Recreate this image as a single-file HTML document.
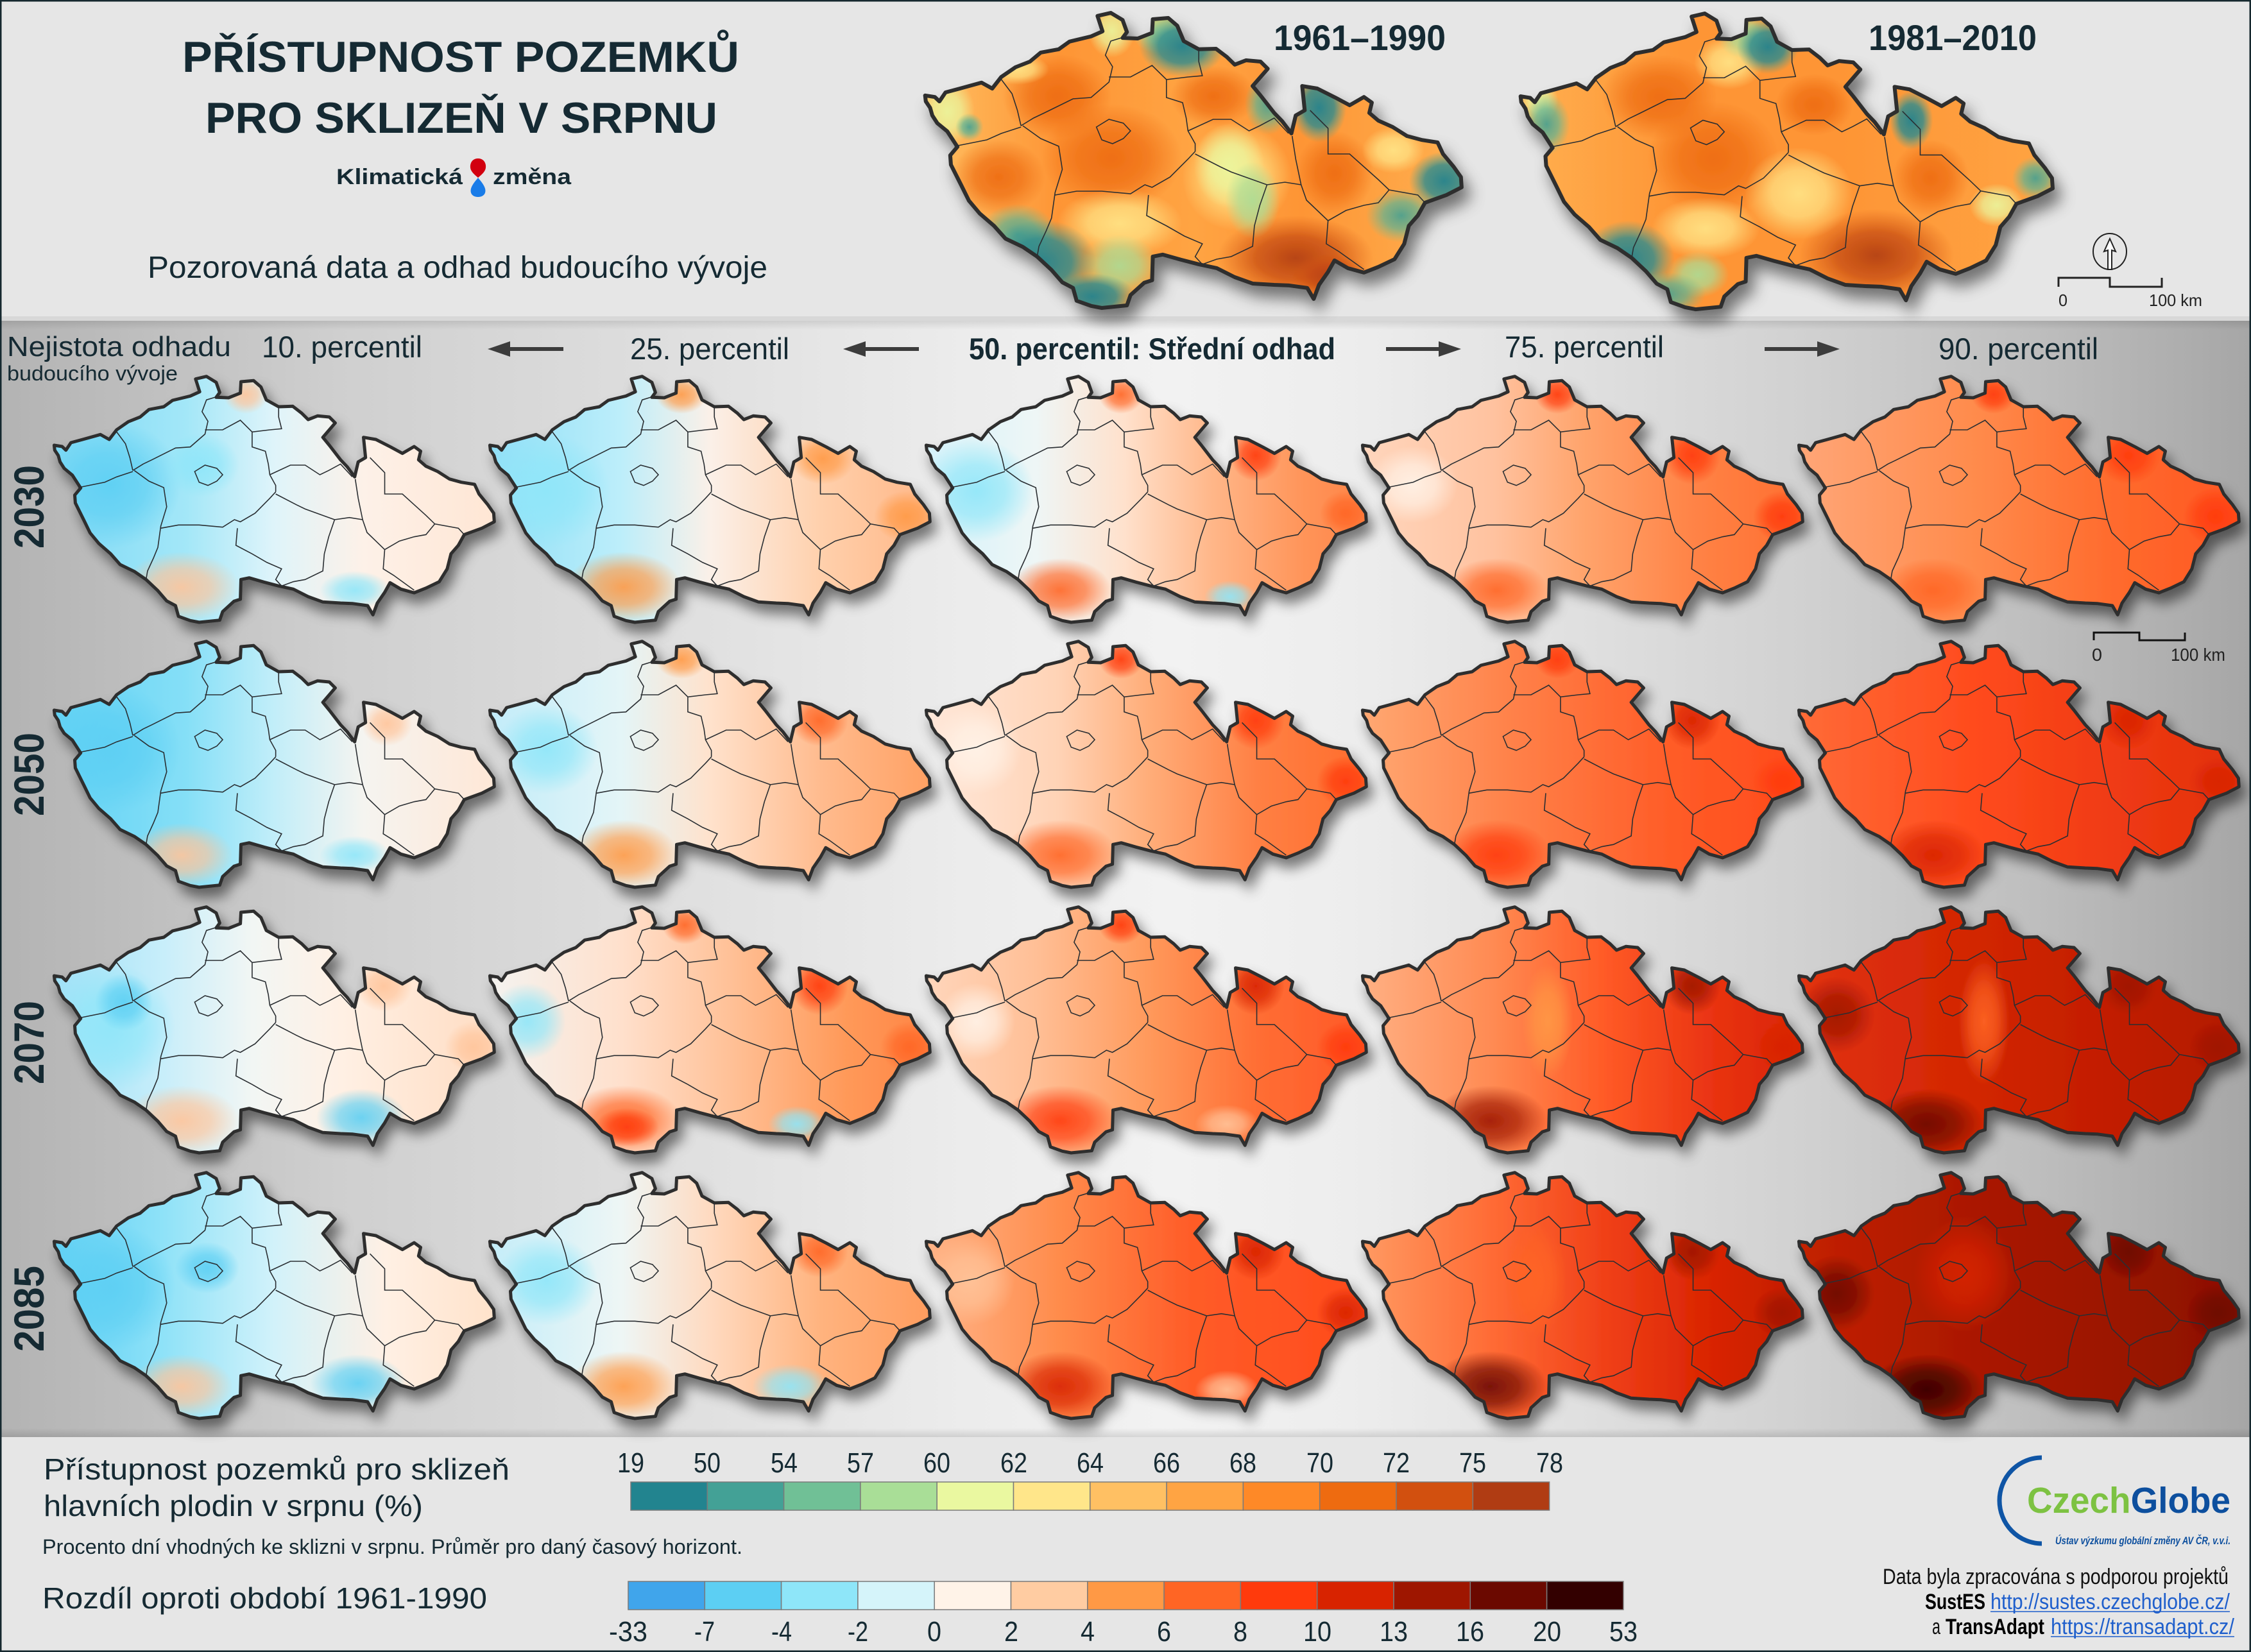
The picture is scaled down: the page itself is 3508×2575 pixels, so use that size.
<!DOCTYPE html>
<html><head><meta charset="utf-8"><style>
html,body{margin:0;padding:0;background:#e6e6e6}
svg{display:block}
text{font-family:"Liberation Sans",Arial,sans-serif;fill:#152a33}
.ol{fill:none;stroke:#2e2e2e;stroke-width:5;stroke-linejoin:round}
.kr{fill:none;stroke:#2a2f33;stroke-width:1.6;vector-effect:non-scaling-stroke}
</style></head><body>
<svg width="3508" height="2575" viewBox="0 0 3508 2575" xmlns="http://www.w3.org/2000/svg">
<defs>
<path id="cz" d="M1.4,109 L13.8,111 L19.7,116.7 L27.5,105 L45.9,100 L73.5,92.3 L87.2,100 L98.7,85 L117,72.3 L135.4,65 L149.2,53.3 L172.2,49 L186,39 L213.5,32.3 L228.2,25.7 L221.8,5.7 L238.8,1.7 L253.9,11 L259.4,26.7 L253.9,34.3 L273.2,35 L291.6,27.7 L292.5,10 L312.2,8.3 L323.7,18.3 L332,38.3 L351.2,49 L373.3,48.3 L387.1,59 L397.2,69 L411.8,63.3 L430.2,65 L439.4,74.3 L430.2,85 L420.1,96.7 L430.2,109 L447.7,131.7 L457.8,142.3 L469.7,158.3 L475.2,135 L486.7,128.3 L483.5,96.7 L502.8,100 L525.7,111.7 L544.1,121.7 L562.4,111 L572.5,118.3 L569.3,131.7 L580.8,141.7 L599.2,150 L617.5,161.7 L635.9,166.7 L656.6,170 L663.5,185 L677.2,201.7 L686.4,215 L687.3,228.3 L668,238.3 L640.5,248.3 L631.3,265 L619.8,278.3 L613.9,301.7 L601.5,321.7 L580.8,331.7 L562.4,339 L541.8,333.3 L524.8,323.3 L516.5,338.3 L505,355 L498.2,373.3 L489.9,359 L466,355.7 L447.7,355 L420.1,353.3 L397.2,345 L374.2,333.3 L351.2,328.3 L328.3,322.3 L305.3,315.7 L292.5,318.3 L291.6,349 L281.5,352.3 L264,368.3 L259.4,381.7 L227.3,385 L213.5,382.3 L195.1,375.7 L190.5,359 L176.8,351.7 L163,335.7 L144.6,318.3 L126.3,305.7 L104.2,295 L89.5,278.3 L71.2,262.3 L57.4,245.7 L47.3,225 L34.4,199 L33.5,186.7 L42.7,175.7 L29.8,155.7 L17,145 L10.6,135 L7.8,125 L2.3,116.7 Z"/>
<clipPath id="cc"><use href="#cz"/></clipPath>
<g id="kr" transform="matrix(0.45914,0,0,0.33333,-11.478,-15)">
<path class="kr" d="M235,300 L270,365 L285,430 L295,490 M110,570 L200,545 L240,520 L295,495 M295,490 L330,460 L360,440 L440,385 L490,380 L540,320 L550,260 L530,215 L545,160 L580,145 M300,490 L350,540 L400,570 L410,660 L390,750 L380,850 L365,900 L345,960 L340,1000 M390,760 L450,745 L520,745 L600,755 L640,720 L660,730 L710,690 L760,620 L780,590 M540,300 L600,300 L660,255 L700,310 L760,300 L800,295 L790,240 L790,190 M700,310 L700,380 L745,400 L755,460 L760,510 L780,560 L780,590 M760,510 L830,465 L880,465 L930,510 L960,490 L1000,460 L1040,520 M650,760 L645,840 L700,880 L750,920 L800,950 L780,1000 L800,1030 M780,600 L850,650 L880,670 L940,700 L980,720 M980,720 L960,800 L945,880 L940,960 L880,1000 L840,1010 L800,1030 M1050,530 L1060,620 L1075,720 M980,720 L1030,710 L1075,720 M1075,720 L1090,780 L1120,820 L1150,860 L1145,950 L1180,980 L1250,1050 M1100,430 L1150,500 L1150,600 L1210,600 L1250,650 L1290,700 L1320,740 L1400,760 L1420,790 M1320,740 L1290,790 L1250,800 L1200,820 L1150,860 M505,495 L540,465 L580,480 L600,510 L580,540 L550,560 L520,545 Z"/>
</g>
<filter id="ds" x="-10%" y="-10%" width="125%" height="140%">
<feGaussianBlur in="SourceAlpha" stdDeviation="10"/>
<feOffset dx="8" dy="15" result="o"/>
<feFlood flood-color="#000" flood-opacity=".5"/>
<feComposite in2="o" operator="in"/>
<feMerge><feMergeNode/><feMergeNode in="SourceGraphic"/></feMerge>
</filter>
<linearGradient id="band" x1="0" x2="1" y1="0" y2="0">
<stop offset="0" stop-color="#b3b3b3"/><stop offset=".05" stop-color="#bcbcbc"/><stop offset=".15" stop-color="#cfcfcf"/><stop offset=".3" stop-color="#dfdfdf"/><stop offset=".43" stop-color="#ececec"/><stop offset=".52" stop-color="#f2f2f2"/><stop offset=".6" stop-color="#ededed"/><stop offset=".7" stop-color="#e0e0e0"/><stop offset=".8" stop-color="#d1d1d1"/><stop offset=".9" stop-color="#bfbfbf"/><stop offset="1" stop-color="#a6a6a6"/>
</linearGradient>
<linearGradient id="shT" x1="0" x2="0" y1="0" y2="1"><stop offset="0" stop-color="#000" stop-opacity=".10"/><stop offset="1" stop-color="#000" stop-opacity="0"/></linearGradient>
<linearGradient id="shB" x1="0" x2="0" y1="0" y2="1"><stop offset="0" stop-color="#000" stop-opacity="0"/><stop offset="1" stop-color="#000" stop-opacity=".12"/></linearGradient>

<radialGradient id="rB1"><stop offset="0" stop-color="#5ccff3" stop-opacity=".9"/><stop offset=".5" stop-color="#5ccff3" stop-opacity=".65"/><stop offset="1" stop-color="#5ccff3" stop-opacity="0"/></radialGradient>
<radialGradient id="rB2"><stop offset="0" stop-color="#8ee6f9" stop-opacity=".9"/><stop offset=".5" stop-color="#8ee6f9" stop-opacity=".65"/><stop offset="1" stop-color="#8ee6f9" stop-opacity="0"/></radialGradient>
<radialGradient id="rW"><stop offset="0" stop-color="#fff3e8" stop-opacity=".9"/><stop offset=".5" stop-color="#fff3e8" stop-opacity=".65"/><stop offset="1" stop-color="#fff3e8" stop-opacity="0"/></radialGradient>
<radialGradient id="rP"><stop offset="0" stop-color="#ffc49a" stop-opacity=".9"/><stop offset=".5" stop-color="#ffc49a" stop-opacity=".65"/><stop offset="1" stop-color="#ffc49a" stop-opacity="0"/></radialGradient>
<radialGradient id="rO"><stop offset="0" stop-color="#ff9945" stop-opacity=".9"/><stop offset=".5" stop-color="#ff9945" stop-opacity=".65"/><stop offset="1" stop-color="#ff9945" stop-opacity="0"/></radialGradient>
<radialGradient id="rO2"><stop offset="0" stop-color="#ff6524" stop-opacity=".9"/><stop offset=".5" stop-color="#ff6524" stop-opacity=".65"/><stop offset="1" stop-color="#ff6524" stop-opacity="0"/></radialGradient>
<radialGradient id="rR"><stop offset="0" stop-color="#ff3a0c" stop-opacity=".9"/><stop offset=".5" stop-color="#ff3a0c" stop-opacity=".65"/><stop offset="1" stop-color="#ff3a0c" stop-opacity="0"/></radialGradient>
<radialGradient id="rR2"><stop offset="0" stop-color="#d82300" stop-opacity=".9"/><stop offset=".5" stop-color="#d82300" stop-opacity=".65"/><stop offset="1" stop-color="#d82300" stop-opacity="0"/></radialGradient>
<radialGradient id="rD"><stop offset="0" stop-color="#9e1600" stop-opacity=".9"/><stop offset=".5" stop-color="#9e1600" stop-opacity=".65"/><stop offset="1" stop-color="#9e1600" stop-opacity="0"/></radialGradient>
<radialGradient id="rD2"><stop offset="0" stop-color="#6b0900" stop-opacity=".9"/><stop offset=".5" stop-color="#6b0900" stop-opacity=".65"/><stop offset="1" stop-color="#6b0900" stop-opacity="0"/></radialGradient>
<radialGradient id="rDD"><stop offset="0" stop-color="#330000" stop-opacity=".9"/><stop offset=".5" stop-color="#330000" stop-opacity=".65"/><stop offset="1" stop-color="#330000" stop-opacity="0"/></radialGradient>
<radialGradient id="rT1"><stop offset="0" stop-color="#21838f" stop-opacity=".95"/><stop offset=".55" stop-color="#2a8b90" stop-opacity=".8"/><stop offset="1" stop-color="#42a194" stop-opacity="0"/></radialGradient>
<radialGradient id="rT2"><stop offset="0" stop-color="#42a194" stop-opacity=".9"/><stop offset=".5" stop-color="#5ab295" stop-opacity=".7"/><stop offset="1" stop-color="#6fbf94" stop-opacity="0"/></radialGradient>
<radialGradient id="rG"><stop offset="0" stop-color="#aadd97" stop-opacity=".9"/><stop offset=".5" stop-color="#aadd97" stop-opacity=".7"/><stop offset="1" stop-color="#aadd97" stop-opacity="0"/></radialGradient>
<radialGradient id="rY"><stop offset="0" stop-color="#ffe688" stop-opacity=".9"/><stop offset=".5" stop-color="#ffe688" stop-opacity=".7"/><stop offset="1" stop-color="#ffe688" stop-opacity="0"/></radialGradient>
<radialGradient id="rYG"><stop offset="0" stop-color="#eaf79f" stop-opacity=".9"/><stop offset=".5" stop-color="#eaf79f" stop-opacity=".7"/><stop offset="1" stop-color="#eaf79f" stop-opacity="0"/></radialGradient>
<radialGradient id="rOr"><stop offset="0" stop-color="#ed6a11" stop-opacity=".9"/><stop offset=".5" stop-color="#ed6a11" stop-opacity=".65"/><stop offset="1" stop-color="#ed6a11" stop-opacity="0"/></radialGradient>
<radialGradient id="rBr"><stop offset="0" stop-color="#b03c13" stop-opacity=".9"/><stop offset=".5" stop-color="#c2460f" stop-opacity=".7"/><stop offset="1" stop-color="#d2500f" stop-opacity="0"/></radialGradient>

<linearGradient id="T1" x1="0" x2="1"><stop offset="0" stop-color="#ffc063"/><stop offset=".25" stop-color="#fe9535"/><stop offset=".5" stop-color="#ffa443"/><stop offset=".7" stop-color="#fe9535"/><stop offset="1" stop-color="#ffb050"/></linearGradient>
<linearGradient id="T2" x1="0" x2="1"><stop offset="0" stop-color="#ffb050"/><stop offset=".3" stop-color="#fe9535"/><stop offset=".6" stop-color="#fe9535"/><stop offset="1" stop-color="#ffa443"/></linearGradient>

<linearGradient id="L11" x1="0" x2="1"><stop offset="0" stop-color="#7ed9f5"/><stop offset=".3" stop-color="#a3e7f8"/><stop offset=".5" stop-color="#dff4fa"/><stop offset=".7" stop-color="#fdf1e8"/><stop offset="1" stop-color="#ffe6d4"/></linearGradient>
<linearGradient id="L21" x1="0" x2="1"><stop offset="0" stop-color="#8fdff7"/><stop offset=".3" stop-color="#bdeefa"/><stop offset=".5" stop-color="#fbf0e8"/><stop offset=".75" stop-color="#ffd0ac"/><stop offset="1" stop-color="#ffb686"/></linearGradient>
<linearGradient id="L31" x1="0" x2="1"><stop offset="0" stop-color="#d4f2fa"/><stop offset=".25" stop-color="#eef6f6"/><stop offset=".45" stop-color="#ffe1cc"/><stop offset=".65" stop-color="#ffb688"/><stop offset=".85" stop-color="#ff955a"/><stop offset="1" stop-color="#ff8345"/></linearGradient>
<linearGradient id="L41" x1="0" x2="1"><stop offset="0" stop-color="#ffd6bd"/><stop offset=".3" stop-color="#ffc29f"/><stop offset=".5" stop-color="#ffa46c"/><stop offset=".75" stop-color="#ff8346"/><stop offset="1" stop-color="#ff6e30"/></linearGradient>
<linearGradient id="L51" x1="0" x2="1"><stop offset="0" stop-color="#ffa677"/><stop offset=".4" stop-color="#ff8b4c"/><stop offset=".7" stop-color="#ff6c2e"/><stop offset="1" stop-color="#ff5622"/></linearGradient>

<linearGradient id="L12" x1="0" x2="1"><stop offset="0" stop-color="#62d2f4"/><stop offset=".3" stop-color="#85dff7"/><stop offset=".5" stop-color="#c2eef9"/><stop offset=".7" stop-color="#f5f4f0"/><stop offset="1" stop-color="#ffe7d6"/></linearGradient>
<linearGradient id="L22" x1="0" x2="1"><stop offset="0" stop-color="#c2ecf9"/><stop offset=".3" stop-color="#e4f5f7"/><stop offset=".5" stop-color="#ffe2cc"/><stop offset=".75" stop-color="#ffbb8e"/><stop offset="1" stop-color="#ffa062"/></linearGradient>
<linearGradient id="L32" x1="0" x2="1"><stop offset="0" stop-color="#ffe8da"/><stop offset=".3" stop-color="#ffd3b6"/><stop offset=".5" stop-color="#ffae7a"/><stop offset=".75" stop-color="#ff8044"/><stop offset="1" stop-color="#ff6c2c"/></linearGradient>
<linearGradient id="L42" x1="0" x2="1"><stop offset="0" stop-color="#ffa872"/><stop offset=".35" stop-color="#ff8048"/><stop offset=".7" stop-color="#ff5c27"/><stop offset="1" stop-color="#ff4a1b"/></linearGradient>
<linearGradient id="L52" x1="0" x2="1"><stop offset="0" stop-color="#ff6b37"/><stop offset=".4" stop-color="#ff4b1d"/><stop offset=".7" stop-color="#f03b13"/><stop offset="1" stop-color="#e2300e"/></linearGradient>

<linearGradient id="L13" x1="0" x2="1"><stop offset="0" stop-color="#9fe1f7"/><stop offset=".25" stop-color="#c8eefa"/><stop offset=".45" stop-color="#f2f6f4"/><stop offset=".65" stop-color="#fff0e4"/><stop offset="1" stop-color="#ffdcc2"/></linearGradient>
<linearGradient id="L23" x1="0" x2="1"><stop offset="0" stop-color="#f4f3f0"/><stop offset=".3" stop-color="#ffe0cc"/><stop offset=".55" stop-color="#ffc096"/><stop offset=".8" stop-color="#ff9a5a"/><stop offset="1" stop-color="#ff8444"/></linearGradient>
<linearGradient id="L33" x1="0" x2="1"><stop offset="0" stop-color="#ffd6bc"/><stop offset=".25" stop-color="#ffbf96"/><stop offset=".5" stop-color="#ff9a5c"/><stop offset=".75" stop-color="#ff6e34"/><stop offset="1" stop-color="#ff5727"/></linearGradient>
<linearGradient id="L43" x1="0" x2="1"><stop offset="0" stop-color="#ffb083"/><stop offset=".3" stop-color="#ff8a52"/><stop offset=".55" stop-color="#ff5a26"/><stop offset=".8" stop-color="#e93211"/><stop offset="1" stop-color="#d82502"/></linearGradient>
<linearGradient id="L53" x1="0" x2="1"><stop offset="0" stop-color="#e23212"/><stop offset=".4" stop-color="#d22602"/><stop offset=".7" stop-color="#c21d00"/><stop offset="1" stop-color="#b21900"/></linearGradient>

<linearGradient id="L14" x1="0" x2="1"><stop offset="0" stop-color="#5fd0f4"/><stop offset=".25" stop-color="#8fe2f8"/><stop offset=".5" stop-color="#d2f2fa"/><stop offset=".75" stop-color="#fff0e4"/><stop offset="1" stop-color="#ffe2ca"/></linearGradient>
<linearGradient id="L24" x1="0" x2="1"><stop offset="0" stop-color="#c4edf9"/><stop offset=".3" stop-color="#eef6f5"/><stop offset=".5" stop-color="#ffdac0"/><stop offset=".75" stop-color="#ffb37e"/><stop offset="1" stop-color="#ff9c5e"/></linearGradient>
<linearGradient id="L34" x1="0" x2="1"><stop offset="0" stop-color="#ffb488"/><stop offset=".3" stop-color="#ff8c4c"/><stop offset=".6" stop-color="#ff5c28"/><stop offset="1" stop-color="#ff4a1b"/></linearGradient>
<linearGradient id="L44" x1="0" x2="1"><stop offset="0" stop-color="#ff9a62"/><stop offset=".3" stop-color="#ff6a34"/><stop offset=".55" stop-color="#f04018"/><stop offset=".8" stop-color="#d82300"/><stop offset="1" stop-color="#c21d00"/></linearGradient>
<linearGradient id="L54" x1="0" x2="1"><stop offset="0" stop-color="#c42100"/><stop offset=".4" stop-color="#aa1800"/><stop offset=".7" stop-color="#9c1400"/><stop offset="1" stop-color="#8c1000"/></linearGradient>
</defs>

<rect x="0" y="0" width="3508" height="2575" fill="#e6e6e6"/>
<rect x="0" y="500" width="3508" height="1740" fill="url(#band)"/>
<rect x="0" y="500" width="3508" height="14" fill="url(#shT)"/>
<rect x="0" y="493" width="3508" height="7" fill="#000" opacity=".06"/>
<rect x="0" y="2226" width="3508" height="14" fill="url(#shB)"/>

<text x="284" y="112" font-size="68" font-weight="bold" textLength="868" lengthAdjust="spacingAndGlyphs">PŘÍSTUPNOST POZEMKŮ</text>
<text x="320" y="207" font-size="68" font-weight="bold" textLength="798" lengthAdjust="spacingAndGlyphs">PRO SKLIZEŇ V SRPNU</text>
<text x="524" y="287" font-size="34" font-weight="bold" textLength="197" lengthAdjust="spacingAndGlyphs">Klimatická</text>
<text x="768" y="287" font-size="34" font-weight="bold" textLength="122" lengthAdjust="spacingAndGlyphs">změna</text>
<path d="M745,247 C734,247 731,258 734,265 C737,271 742,274 745,277 C748,274 753,271 756,265 C759,258 756,247 745,247 Z" fill="#d2000f"/>
<path d="M745,277 C742,281 736,287 734,294 C732,302 737,307 745,307 C753,307 758,302 756,294 C754,287 748,281 745,277 Z" fill="#1a7ce8"/>
<text x="230" y="433" font-size="48" textLength="966" lengthAdjust="spacingAndGlyphs">Pozorovaná data a odhad budoucího vývoje</text>

<g transform="translate(1440,18) scale(1.219,1.2)" filter="url(#ds)">
<g clip-path="url(#cc)">
<rect width="690" height="386" fill="url(#T1)"/>
<ellipse cx="170" cy="110" rx="70" ry="55" fill="url(#rOr)"/>
<ellipse cx="240" cy="190" rx="90" ry="70" fill="url(#rOr)"/>
<ellipse cx="95" cy="215" rx="60" ry="50" fill="url(#rOr)"/>
<ellipse cx="525" cy="210" rx="50" ry="55" fill="url(#rOr)"/>
<ellipse cx="370" cy="110" rx="55" ry="40" fill="url(#rOr)"/>
<ellipse cx="475" cy="320" rx="100" ry="55" fill="url(#rBr)"/>
<ellipse cx="520" cy="345" rx="50" ry="30" fill="url(#rBr)"/>
<ellipse cx="250" cy="275" rx="80" ry="45" fill="url(#rY)"/>
<ellipse cx="400" cy="215" rx="70" ry="70" fill="url(#rY)"/>
<ellipse cx="390" cy="200" rx="45" ry="55" fill="url(#rYG)"/>
<ellipse cx="420" cy="245" rx="35" ry="50" fill="url(#rG)"/>
<ellipse cx="250" cy="330" rx="50" ry="40" fill="url(#rG)"/>
<ellipse cx="120" cy="290" rx="50" ry="40" fill="url(#rT2)"/>
<ellipse cx="150" cy="325" rx="70" ry="55" fill="url(#rT1)"/>
<ellipse cx="215" cy="370" rx="55" ry="30" fill="url(#rT1)"/>
<ellipse cx="240" cy="25" rx="30" ry="35" fill="url(#rYG)"/>
<ellipse cx="300" cy="25" rx="35" ry="30" fill="url(#rG)"/>
<ellipse cx="330" cy="45" rx="55" ry="40" fill="url(#rT1)"/>
<ellipse cx="440" cy="120" rx="30" ry="40" fill="url(#rT2)"/>
<ellipse cx="505" cy="125" rx="35" ry="45" fill="url(#rT1)"/>
<ellipse cx="600" cy="180" rx="40" ry="30" fill="url(#rY)"/>
<ellipse cx="665" cy="220" rx="45" ry="38" fill="url(#rT1)"/>
<ellipse cx="610" cy="265" rx="45" ry="35" fill="url(#rT2)"/>
<ellipse cx="30" cy="130" rx="35" ry="45" fill="url(#rYG)"/>
<ellipse cx="58" cy="150" rx="18" ry="18" fill="url(#rT2)"/>
<ellipse cx="120" cy="75" rx="40" ry="20" fill="url(#rY)"/>
</g>
<use href="#cz" class="ol"/>
<use href="#kr"/>
</g>
<g transform="translate(2368,19) scale(1.209,1.203)" filter="url(#ds)">
<g clip-path="url(#cc)">
<rect width="690" height="386" fill="url(#T2)"/>
<ellipse cx="180" cy="110" rx="75" ry="55" fill="url(#rOr)"/>
<ellipse cx="250" cy="190" rx="85" ry="75" fill="url(#rOr)"/>
<ellipse cx="530" cy="215" rx="50" ry="50" fill="url(#rOr)"/>
<ellipse cx="380" cy="120" rx="50" ry="40" fill="url(#rOr)"/>
<ellipse cx="460" cy="315" rx="100" ry="60" fill="url(#rBr)"/>
<ellipse cx="360" cy="235" rx="70" ry="60" fill="url(#rY)"/>
<ellipse cx="240" cy="280" rx="70" ry="40" fill="url(#rY)"/>
<ellipse cx="270" cy="65" rx="45" ry="35" fill="url(#rY)"/>
<ellipse cx="230" cy="340" rx="40" ry="30" fill="url(#rG)"/>
<ellipse cx="140" cy="320" rx="60" ry="50" fill="url(#rT1)"/>
<ellipse cx="190" cy="365" rx="50" ry="28" fill="url(#rT2)"/>
<ellipse cx="25" cy="115" rx="25" ry="30" fill="url(#rYG)"/>
<ellipse cx="35" cy="145" rx="30" ry="40" fill="url(#rT2)"/>
<ellipse cx="290" cy="30" rx="35" ry="30" fill="url(#rG)"/>
<ellipse cx="320" cy="45" rx="40" ry="35" fill="url(#rT1)"/>
<ellipse cx="505" cy="140" rx="28" ry="38" fill="url(#rT1)"/>
<ellipse cx="615" cy="250" rx="35" ry="28" fill="url(#rYG)"/>
<ellipse cx="665" cy="215" rx="30" ry="28" fill="url(#rT2)"/>
</g>
<use href="#cz" class="ol"/>
<use href="#kr"/>
</g>
<text x="1985" y="78" font-size="56" font-weight="bold" textLength="268" lengthAdjust="spacingAndGlyphs">1961–1990</text>
<text x="2912" y="78" font-size="56" font-weight="bold" textLength="262" lengthAdjust="spacingAndGlyphs">1981–2010</text>

<ellipse cx="3288" cy="392" rx="26" ry="28" fill="none" stroke="#222" stroke-width="2"/>
<path d="M3288,372 L3279,392 L3285,390 L3285,420 L3291,420 L3291,390 L3297,392 Z" fill="#fff" stroke="#222" stroke-width="2"/>
<path d="M3208,447 L3208,433 L3288,433 L3288,447 L3369,447 L3369,433" fill="none" stroke="#222" stroke-width="3"/>
<text x="3208" y="477" font-size="26" textLength="14" lengthAdjust="spacingAndGlyphs" style="fill:#222">0</text>
<text x="3349" y="477" font-size="26" textLength="83" lengthAdjust="spacingAndGlyphs" style="fill:#222">100 km</text>

<text x="11" y="555" font-size="44" textLength="349" lengthAdjust="spacingAndGlyphs">Nejistota odhadu</text>
<text x="11" y="593" font-size="32" textLength="266" lengthAdjust="spacingAndGlyphs">budoucího vývoje</text>
<text x="408" y="557" font-size="47" textLength="250" lengthAdjust="spacingAndGlyphs">10. percentil</text>
<text x="982" y="560" font-size="47" textLength="248" lengthAdjust="spacingAndGlyphs">25. percentil</text>
<text x="1510" y="560" font-size="47" font-weight="bold" textLength="571" lengthAdjust="spacingAndGlyphs">50. percentil: Střední odhad</text>
<text x="2345" y="557" font-size="47" textLength="248" lengthAdjust="spacingAndGlyphs">75. percentil</text>
<text x="3021" y="560" font-size="47" textLength="249" lengthAdjust="spacingAndGlyphs">90. percentil</text>
<g fill="#3c3c3c">
<path d="M760,544 L795,532 L795,541 L878,541 L878,547 L795,547 L795,556 Z"/>
<path d="M1314,544 L1349,532 L1349,541 L1432,541 L1432,547 L1349,547 L1349,556 Z"/>
<path d="M2277,544 L2242,532 L2242,541 L2160,541 L2160,547 L2242,547 L2242,556 Z"/>
<path d="M2867,544 L2832,532 L2832,541 L2750,541 L2750,547 L2832,547 L2832,556 Z"/>
</g>

<g font-size="66" font-weight="bold">
<text transform="translate(68,790) rotate(-90)" text-anchor="middle" textLength="130" lengthAdjust="spacingAndGlyphs">2030</text>
<text transform="translate(68,1207) rotate(-90)" text-anchor="middle" textLength="130" lengthAdjust="spacingAndGlyphs">2050</text>
<text transform="translate(68,1625) rotate(-90)" text-anchor="middle" textLength="130" lengthAdjust="spacingAndGlyphs">2070</text>
<text transform="translate(68,2040) rotate(-90)" text-anchor="middle" textLength="134" lengthAdjust="spacingAndGlyphs">2085</text>
</g>

<!-- ROW 2030 -->
<g transform="translate(83,585)" filter="url(#ds)"><g clip-path="url(#cc)">
<rect width="690" height="386" fill="url(#L11)"/>
<ellipse cx="90" cy="170" rx="110" ry="100" fill="url(#rB1)"/>
<ellipse cx="230" cy="140" rx="60" ry="50" fill="url(#rB2)"/>
<ellipse cx="200" cy="330" rx="90" ry="55" fill="url(#rP)"/>
<ellipse cx="300" cy="30" rx="35" ry="30" fill="url(#rP)"/>
<ellipse cx="470" cy="335" rx="55" ry="30" fill="url(#rB2)"/>
</g><use href="#cz" class="ol"/><use href="#kr"/></g>

<g transform="translate(762,585)" filter="url(#ds)"><g clip-path="url(#cc)">
<rect width="690" height="386" fill="url(#L21)"/>
<ellipse cx="90" cy="180" rx="100" ry="90" fill="url(#rB2)"/>
<ellipse cx="210" cy="330" rx="90" ry="55" fill="url(#rO)"/>
<ellipse cx="300" cy="30" rx="40" ry="30" fill="url(#rO)"/>
<ellipse cx="520" cy="130" rx="50" ry="40" fill="url(#rO)"/>
<ellipse cx="650" cy="220" rx="50" ry="40" fill="url(#rO)"/>
</g><use href="#cz" class="ol"/><use href="#kr"/></g>

<g transform="translate(1442,585)" filter="url(#ds)"><g clip-path="url(#cc)">
<rect width="690" height="386" fill="url(#L31)"/>
<ellipse cx="80" cy="180" rx="90" ry="80" fill="url(#rB2)"/>
<ellipse cx="210" cy="335" rx="80" ry="50" fill="url(#rO2)"/>
<ellipse cx="305" cy="30" rx="35" ry="30" fill="url(#rO2)"/>
<ellipse cx="515" cy="125" rx="40" ry="40" fill="url(#rR)"/>
<ellipse cx="655" cy="215" rx="40" ry="35" fill="url(#rO2)"/>
<ellipse cx="475" cy="345" rx="40" ry="25" fill="url(#rB2)"/>
</g><use href="#cz" class="ol"/><use href="#kr"/></g>

<g transform="translate(2122,585)" filter="url(#ds)"><g clip-path="url(#cc)">
<rect width="690" height="386" fill="url(#L41)"/>
<ellipse cx="80" cy="170" rx="70" ry="60" fill="url(#rW)"/>
<ellipse cx="210" cy="335" rx="80" ry="50" fill="url(#rO2)"/>
<ellipse cx="305" cy="30" rx="35" ry="30" fill="url(#rR)"/>
<ellipse cx="515" cy="125" rx="45" ry="45" fill="url(#rR)"/>
<ellipse cx="655" cy="220" rx="45" ry="40" fill="url(#rR)"/>
</g><use href="#cz" class="ol"/><use href="#kr"/></g>

<g transform="translate(2802,585)" filter="url(#ds)"><g clip-path="url(#cc)">
<rect width="690" height="386" fill="url(#L51)"/>
<ellipse cx="515" cy="125" rx="50" ry="45" fill="url(#rR)"/>
<ellipse cx="650" cy="220" rx="50" ry="45" fill="url(#rR)"/>
<ellipse cx="210" cy="335" rx="80" ry="50" fill="url(#rO2)"/>
<ellipse cx="305" cy="30" rx="35" ry="30" fill="url(#rR)"/>
</g><use href="#cz" class="ol"/><use href="#kr"/></g>

<!-- ROW 2050 -->
<g transform="translate(83,998)" filter="url(#ds)"><g clip-path="url(#cc)">
<rect width="690" height="386" fill="url(#L12)"/>
<ellipse cx="90" cy="170" rx="110" ry="100" fill="url(#rB1)"/>
<ellipse cx="200" cy="335" rx="80" ry="50" fill="url(#rP)"/>
<ellipse cx="470" cy="335" rx="55" ry="30" fill="url(#rB2)"/>
<ellipse cx="520" cy="130" rx="40" ry="35" fill="url(#rP)"/>
</g><use href="#cz" class="ol"/><use href="#kr"/></g>

<g transform="translate(762,998)" filter="url(#ds)"><g clip-path="url(#cc)">
<rect width="690" height="386" fill="url(#L22)"/>
<ellipse cx="90" cy="170" rx="80" ry="70" fill="url(#rB2)"/>
<ellipse cx="210" cy="335" rx="85" ry="55" fill="url(#rO)"/>
<ellipse cx="515" cy="125" rx="45" ry="40" fill="url(#rO2)"/>
<ellipse cx="300" cy="30" rx="40" ry="30" fill="url(#rO)"/>
</g><use href="#cz" class="ol"/><use href="#kr"/></g>

<g transform="translate(1442,998)" filter="url(#ds)"><g clip-path="url(#cc)">
<rect width="690" height="386" fill="url(#L32)"/>
<ellipse cx="80" cy="170" rx="70" ry="70" fill="url(#rW)"/>
<ellipse cx="210" cy="335" rx="90" ry="55" fill="url(#rO2)"/>
<ellipse cx="515" cy="125" rx="45" ry="45" fill="url(#rR)"/>
<ellipse cx="655" cy="220" rx="45" ry="40" fill="url(#rR)"/>
<ellipse cx="305" cy="30" rx="35" ry="30" fill="url(#rR)"/>
</g><use href="#cz" class="ol"/><use href="#kr"/></g>

<g transform="translate(2122,998)" filter="url(#ds)"><g clip-path="url(#cc)">
<rect width="690" height="386" fill="url(#L42)"/>
<ellipse cx="515" cy="125" rx="45" ry="45" fill="url(#rR2)"/>
<ellipse cx="655" cy="220" rx="45" ry="40" fill="url(#rR)"/>
<ellipse cx="210" cy="335" rx="85" ry="55" fill="url(#rR)"/>
<ellipse cx="305" cy="30" rx="35" ry="30" fill="url(#rR)"/>
</g><use href="#cz" class="ol"/><use href="#kr"/></g>

<g transform="translate(2802,998)" filter="url(#ds)"><g clip-path="url(#cc)">
<rect width="690" height="386" fill="url(#L52)"/>
<ellipse cx="515" cy="125" rx="45" ry="45" fill="url(#rR2)"/>
<ellipse cx="655" cy="220" rx="45" ry="40" fill="url(#rR2)"/>
<ellipse cx="210" cy="335" rx="85" ry="55" fill="url(#rR2)"/>
</g><use href="#cz" class="ol"/><use href="#kr"/></g>

<!-- ROW 2070 -->
<g transform="translate(83,1412)" filter="url(#ds)"><g clip-path="url(#cc)">
<rect width="690" height="386" fill="url(#L13)"/>
<ellipse cx="90" cy="190" rx="100" ry="100" fill="url(#rB2)"/>
<ellipse cx="110" cy="150" rx="45" ry="45" fill="url(#rB1)"/>
<ellipse cx="200" cy="335" rx="90" ry="55" fill="url(#rP)"/>
<ellipse cx="480" cy="330" rx="70" ry="45" fill="url(#rB1)"/>
<ellipse cx="515" cy="125" rx="45" ry="40" fill="url(#rP)"/>
<ellipse cx="655" cy="220" rx="45" ry="40" fill="url(#rP)"/>
</g><use href="#cz" class="ol"/><use href="#kr"/></g>

<g transform="translate(762,1412)" filter="url(#ds)"><g clip-path="url(#cc)">
<rect width="690" height="386" fill="url(#L23)"/>
<ellipse cx="60" cy="180" rx="60" ry="60" fill="url(#rB2)"/>
<ellipse cx="210" cy="335" rx="90" ry="55" fill="url(#rO2)"/>
<ellipse cx="215" cy="345" rx="50" ry="30" fill="url(#rR)"/>
<ellipse cx="515" cy="125" rx="45" ry="45" fill="url(#rR)"/>
<ellipse cx="655" cy="220" rx="45" ry="40" fill="url(#rO2)"/>
<ellipse cx="305" cy="30" rx="35" ry="30" fill="url(#rO2)"/>
<ellipse cx="480" cy="340" rx="45" ry="28" fill="url(#rB2)"/>
</g><use href="#cz" class="ol"/><use href="#kr"/></g>

<g transform="translate(1442,1412)" filter="url(#ds)"><g clip-path="url(#cc)">
<rect width="690" height="386" fill="url(#L33)"/>
<ellipse cx="80" cy="180" rx="60" ry="60" fill="url(#rW)"/>
<ellipse cx="210" cy="335" rx="90" ry="55" fill="url(#rR)"/>
<ellipse cx="515" cy="125" rx="45" ry="45" fill="url(#rR2)"/>
<ellipse cx="655" cy="220" rx="45" ry="40" fill="url(#rR)"/>
<ellipse cx="305" cy="30" rx="35" ry="30" fill="url(#rR)"/>
<ellipse cx="470" cy="340" rx="50" ry="30" fill="url(#rP)"/>
</g><use href="#cz" class="ol"/><use href="#kr"/></g>

<g transform="translate(2122,1412)" filter="url(#ds)"><g clip-path="url(#cc)">
<rect width="690" height="386" fill="url(#L43)"/>
<ellipse cx="200" cy="335" rx="90" ry="55" fill="url(#rD)"/>
<ellipse cx="515" cy="125" rx="45" ry="45" fill="url(#rD)"/>
<ellipse cx="655" cy="220" rx="45" ry="40" fill="url(#rR2)"/>
<ellipse cx="290" cy="180" rx="40" ry="90" fill="url(#rO)"/>
</g><use href="#cz" class="ol"/><use href="#kr"/></g>

<g transform="translate(2802,1412)" filter="url(#ds)"><g clip-path="url(#cc)">
<rect width="690" height="386" fill="url(#L53)"/>
<ellipse cx="200" cy="340" rx="90" ry="55" fill="url(#rD2)"/>
<ellipse cx="515" cy="125" rx="45" ry="45" fill="url(#rD)"/>
<ellipse cx="655" cy="220" rx="45" ry="40" fill="url(#rD)"/>
<ellipse cx="60" cy="170" rx="60" ry="60" fill="url(#rD)"/>
<ellipse cx="290" cy="180" rx="40" ry="100" fill="url(#rO2)"/>
</g><use href="#cz" class="ol"/><use href="#kr"/></g>

<!-- ROW 2085 -->
<g transform="translate(83,1826)" filter="url(#ds)"><g clip-path="url(#cc)">
<rect width="690" height="386" fill="url(#L14)"/>
<ellipse cx="90" cy="180" rx="100" ry="100" fill="url(#rB1)"/>
<ellipse cx="240" cy="150" rx="50" ry="40" fill="url(#rB1)"/>
<ellipse cx="475" cy="330" rx="75" ry="45" fill="url(#rB1)"/>
<ellipse cx="200" cy="335" rx="80" ry="50" fill="url(#rP)"/>
</g><use href="#cz" class="ol"/><use href="#kr"/></g>

<g transform="translate(762,1826)" filter="url(#ds)"><g clip-path="url(#cc)">
<rect width="690" height="386" fill="url(#L24)"/>
<ellipse cx="90" cy="170" rx="80" ry="70" fill="url(#rB2)"/>
<ellipse cx="470" cy="335" rx="60" ry="35" fill="url(#rB2)"/>
<ellipse cx="210" cy="335" rx="85" ry="55" fill="url(#rO)"/>
<ellipse cx="515" cy="125" rx="45" ry="40" fill="url(#rO2)"/>
</g><use href="#cz" class="ol"/><use href="#kr"/></g>

<g transform="translate(1442,1826)" filter="url(#ds)"><g clip-path="url(#cc)">
<rect width="690" height="386" fill="url(#L34)"/>
<ellipse cx="70" cy="170" rx="70" ry="70" fill="url(#rP)"/>
<ellipse cx="210" cy="335" rx="85" ry="55" fill="url(#rR2)"/>
<ellipse cx="515" cy="125" rx="45" ry="45" fill="url(#rR2)"/>
<ellipse cx="655" cy="220" rx="45" ry="40" fill="url(#rR2)"/>
<ellipse cx="470" cy="340" rx="50" ry="30" fill="url(#rP)"/>
</g><use href="#cz" class="ol"/><use href="#kr"/></g>

<g transform="translate(2122,1826)" filter="url(#ds)"><g clip-path="url(#cc)">
<rect width="690" height="386" fill="url(#L44)"/>
<ellipse cx="200" cy="335" rx="90" ry="55" fill="url(#rD2)"/>
<ellipse cx="515" cy="125" rx="45" ry="45" fill="url(#rD)"/>
<ellipse cx="655" cy="220" rx="45" ry="40" fill="url(#rD)"/>
<ellipse cx="270" cy="170" rx="50" ry="90" fill="url(#rO2)"/>
</g><use href="#cz" class="ol"/><use href="#kr"/></g>

<g transform="translate(2802,1826)" filter="url(#ds)"><g clip-path="url(#cc)">
<rect width="690" height="386" fill="url(#L54)"/>
<ellipse cx="200" cy="340" rx="90" ry="55" fill="url(#rDD)"/>
<ellipse cx="655" cy="220" rx="50" ry="45" fill="url(#rD2)"/>
<ellipse cx="515" cy="125" rx="45" ry="45" fill="url(#rD2)"/>
<ellipse cx="60" cy="190" rx="60" ry="60" fill="url(#rD2)"/>
<ellipse cx="260" cy="160" rx="80" ry="90" fill="url(#rR2)"/>
</g><use href="#cz" class="ol"/><use href="#kr"/></g>

<path d="M3263,998 L3263,986 L3334,986 L3334,998 L3405,998 L3405,986" fill="none" stroke="#111" stroke-width="3"/>
<text x="3260" y="1030" font-size="28" textLength="16" lengthAdjust="spacingAndGlyphs" style="fill:#222">0</text>
<text x="3383" y="1030" font-size="28" textLength="85" lengthAdjust="spacingAndGlyphs" style="fill:#222">100 km</text>

<text x="68" y="2306" font-size="46" textLength="726" lengthAdjust="spacingAndGlyphs">Přístupnost pozemků pro sklizeň</text>
<text x="68" y="2363" font-size="46" textLength="591" lengthAdjust="spacingAndGlyphs">hlavních plodin v srpnu (%)</text>
<text x="66" y="2422" font-size="32" textLength="1091" lengthAdjust="spacingAndGlyphs">Procento dní vhodných ke sklizni v srpnu. Průměr pro daný časový horizont.</text>
<text x="66" y="2507" font-size="46" textLength="693" lengthAdjust="spacingAndGlyphs">Rozdíl oproti období 1961-1990</text>

<g stroke="#7a7a7a" stroke-width="1.5">
<rect x="983" y="2310" width="119.3" height="44" fill="#22848f"/>
<rect x="1102.3" y="2310" width="119.3" height="44" fill="#43a196"/>
<rect x="1221.6" y="2310" width="119.3" height="44" fill="#70c096"/>
<rect x="1340.9" y="2310" width="119.3" height="44" fill="#a9de97"/>
<rect x="1460.2" y="2310" width="119.3" height="44" fill="#eaf8a0"/>
<rect x="1579.5" y="2310" width="119.3" height="44" fill="#ffe68a"/>
<rect x="1698.8" y="2310" width="119.3" height="44" fill="#ffc063"/>
<rect x="1818.1" y="2310" width="119.3" height="44" fill="#ffa443"/>
<rect x="1937.4" y="2310" width="119.3" height="44" fill="#fe8927"/>
<rect x="2056.7" y="2310" width="119.3" height="44" fill="#ee6b10"/>
<rect x="2176" y="2310" width="119.3" height="44" fill="#d2500f"/>
<rect x="2295.3" y="2310" width="119.3" height="44" fill="#b03c13"/>
</g>
<g font-size="44" text-anchor="middle">
<text x="983" y="2295" textLength="42" lengthAdjust="spacingAndGlyphs">19</text>
<text x="1102" y="2295" textLength="42" lengthAdjust="spacingAndGlyphs">50</text>
<text x="1222" y="2295" textLength="42" lengthAdjust="spacingAndGlyphs">54</text>
<text x="1341" y="2295" textLength="42" lengthAdjust="spacingAndGlyphs">57</text>
<text x="1460" y="2295" textLength="42" lengthAdjust="spacingAndGlyphs">60</text>
<text x="1580" y="2295" textLength="42" lengthAdjust="spacingAndGlyphs">62</text>
<text x="1699" y="2295" textLength="42" lengthAdjust="spacingAndGlyphs">64</text>
<text x="1818" y="2295" textLength="42" lengthAdjust="spacingAndGlyphs">66</text>
<text x="1937" y="2295" textLength="42" lengthAdjust="spacingAndGlyphs">68</text>
<text x="2057" y="2295" textLength="42" lengthAdjust="spacingAndGlyphs">70</text>
<text x="2176" y="2295" textLength="42" lengthAdjust="spacingAndGlyphs">72</text>
<text x="2295" y="2295" textLength="42" lengthAdjust="spacingAndGlyphs">75</text>
<text x="2415" y="2295" textLength="42" lengthAdjust="spacingAndGlyphs">78</text>
</g>

<g stroke="#7a7a7a" stroke-width="1.5">
<rect x="979" y="2465" width="119.3" height="44" fill="#40a5eb"/>
<rect x="1098.3" y="2465" width="119.3" height="44" fill="#5ccff3"/>
<rect x="1217.6" y="2465" width="119.3" height="44" fill="#8ee6f9"/>
<rect x="1336.9" y="2465" width="119.3" height="44" fill="#d5f4fa"/>
<rect x="1456.2" y="2465" width="119.3" height="44" fill="#fff3e8"/>
<rect x="1575.5" y="2465" width="119.3" height="44" fill="#ffcca2"/>
<rect x="1694.8" y="2465" width="119.3" height="44" fill="#ff9945"/>
<rect x="1814.1" y="2465" width="119.3" height="44" fill="#ff6524"/>
<rect x="1933.4" y="2465" width="119.3" height="44" fill="#ff3a0c"/>
<rect x="2052.7" y="2465" width="119.3" height="44" fill="#d82300"/>
<rect x="2172" y="2465" width="119.3" height="44" fill="#9e1600"/>
<rect x="2291.3" y="2465" width="119.3" height="44" fill="#6b0900"/>
<rect x="2410.6" y="2465" width="119.3" height="44" fill="#330000"/>
</g>
<g font-size="44" text-anchor="middle">
<text x="979" y="2558" textLength="60" lengthAdjust="spacingAndGlyphs">-33</text>
<text x="1098" y="2558" textLength="32" lengthAdjust="spacingAndGlyphs">-7</text>
<text x="1218" y="2558" textLength="32" lengthAdjust="spacingAndGlyphs">-4</text>
<text x="1337" y="2558" textLength="32" lengthAdjust="spacingAndGlyphs">-2</text>
<text x="1456" y="2558" textLength="22" lengthAdjust="spacingAndGlyphs">0</text>
<text x="1576" y="2558" textLength="22" lengthAdjust="spacingAndGlyphs">2</text>
<text x="1695" y="2558" textLength="22" lengthAdjust="spacingAndGlyphs">4</text>
<text x="1814" y="2558" textLength="22" lengthAdjust="spacingAndGlyphs">6</text>
<text x="1933" y="2558" textLength="22" lengthAdjust="spacingAndGlyphs">8</text>
<text x="2053" y="2558" textLength="44" lengthAdjust="spacingAndGlyphs">10</text>
<text x="2172" y="2558" textLength="44" lengthAdjust="spacingAndGlyphs">13</text>
<text x="2291" y="2558" textLength="44" lengthAdjust="spacingAndGlyphs">16</text>
<text x="2411" y="2558" textLength="44" lengthAdjust="spacingAndGlyphs">20</text>
<text x="2530" y="2558" textLength="44" lengthAdjust="spacingAndGlyphs">53</text>
</g>

<path d="M3182,2272 A66,67 0 0 0 3182,2406" fill="none" stroke="#0f55a5" stroke-width="7"/>
<text x="3159" y="2358" font-size="57" font-weight="bold" textLength="317" lengthAdjust="spacingAndGlyphs"><tspan style="fill:#7dc242">Czech</tspan><tspan style="fill:#0d4f9e">Globe</tspan></text>
<text x="3476" y="2407" font-size="17" font-weight="bold" font-style="italic" text-anchor="end" textLength="273" lengthAdjust="spacingAndGlyphs" style="fill:#0d4f9e">Ústav výzkumu globální změny AV ČR, v.v.i.</text>
<text x="3473" y="2469" font-size="34" text-anchor="end" textLength="539" lengthAdjust="spacingAndGlyphs" style="fill:#111">Data byla zpracována s podporou projektů</text>
<text x="3000" y="2508" font-size="34" font-weight="bold" textLength="94" lengthAdjust="spacingAndGlyphs" style="fill:#000">SustES</text>
<text x="3102" y="2508" font-size="34" textLength="373" lengthAdjust="spacingAndGlyphs" style="fill:#1f5fcc">http://sustes.czechglobe.cz/</text>
<line x1="3102" y1="2512" x2="3475" y2="2512" stroke="#1f5fcc" stroke-width="1.5"/>
<text x="3011" y="2547" font-size="34" textLength="13" lengthAdjust="spacingAndGlyphs" style="fill:#111">a</text>
<text x="3032" y="2547" font-size="34" font-weight="bold" textLength="154" lengthAdjust="spacingAndGlyphs" style="fill:#000">TransAdapt</text>
<text x="3196" y="2547" font-size="34" textLength="286" lengthAdjust="spacingAndGlyphs" style="fill:#1f5fcc">https://transadapt.cz/</text>
<line x1="3196" y1="2551" x2="3482" y2="2551" stroke="#1f5fcc" stroke-width="1.5"/>

<rect x="0" y="0" width="3508" height="2575" fill="none" stroke="#15282f" stroke-width="5"/>
</svg>
</body></html>
